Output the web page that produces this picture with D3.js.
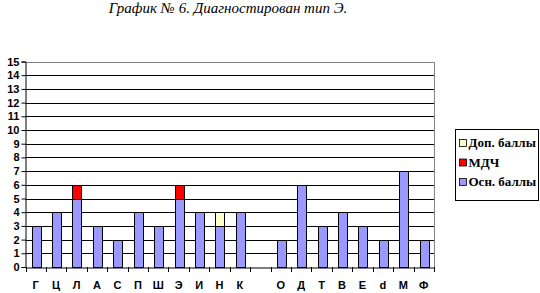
<html>
<head>
<meta charset="utf-8">
<script src="https://d3js.org/d3.v7.min.js"></script>
<style>
  body { margin: 0; background: #fff; }
</style>
</head>
<body>
<div id="chart"></div>
<script>

// categories ("" is the empty gap between К and О)
var categories = ["Г", "Ц", "Л", "А", "С", "П", "Ш", "Э", "И", "Н", "К", "", "О", "Д", "Т", "В", "Е", "d", "М", "Ф"];
var osnBally = [3, 4, 5, 3, 2, 4, 3, 5, 4, 3, 4, 0, 2, 6, 3, 4, 3, 2, 7, 2];
var mdch     = [0, 0, 1, 0, 0, 0, 0, 1, 0, 0, 0, 0, 0, 0, 0, 0, 0, 0, 0, 0];
var dopBally = [0, 0, 0, 0, 0, 0, 0, 0, 0, 1, 0, 0, 0, 0, 0, 0, 0, 0, 0, 0];
var yTicks = d3.range(0, 16);

var seriesNames = ["Осн. баллы", "МДЧ", "Доп. баллы"];
var seriesColors = ["#9999ff", "#ff0000", "#ffffcc"];

var width = 540, height = 293;
var margin = {top: 61.5, left: 25.5, right: 106, bottom: 26};

var svg = d3.select("#chart")
    .append("svg")
    .attr("width", width)
    .attr("height", height);

// title
svg.append("text")
    .attr("x", 228)
    .attr("y", 13)
    .attr("text-anchor", "middle")
    .style("font-family", "Liberation Serif, serif")
    .style("font-style", "italic")
    .style("font-size", "15px")
    .text("График № 6. Диагностирован тип Э.");

var keys = categories.map(function(c, i) { return "k" + i; });

var x = d3.scaleBand()
    .domain(keys)
    .range([margin.left, width - margin.right]);

var y = d3.scaleLinear()
    .domain([0, 15])
    .range([height - margin.bottom, margin.top]);

// gridlines
svg.append("g")
    .selectAll("line")
    .data(yTicks.filter(function(t) { return t > 0 && t < 15; }))
    .enter()
    .append("line")
    .attr("x1", margin.left)
    .attr("x2", width - margin.right)
    .attr("y1", function(d) { return Math.round(y(d)) + 0.5; })
    .attr("y2", function(d) { return Math.round(y(d)) + 0.5; })
    .attr("stroke", "#000")
    .attr("stroke-width", 1);

// plot border (top & right, grey)
svg.append("path")
    .attr("d", "M" + margin.left + "," + (Math.round(y(15)) + 0.5) +
               "H" + (Math.round(width - margin.right) + 0.5) +
               "V" + (Math.round(y(0)) + 0.5))
    .attr("fill", "none")
    .attr("stroke", "#808080");

// stacked data
var rows = categories.map(function(c, i) {
    return {key: keys[i], vals: [osnBally[i], mdch[i], dopBally[i]]};
});

var bw = x.bandwidth();
rows.forEach(function(r) {
    var base = 0;
    r.vals.forEach(function(v, si) {
        if (v > 0) {
            svg.append("rect")
                .attr("x", Math.round(x(r.key) + bw * 0.3) + 0.5)
                .attr("width", Math.round(bw * 0.43))
                .attr("y", Math.round(y(base + v)) + 0.5)
                .attr("height", Math.round(y(base)) - Math.round(y(base + v)))
                .attr("fill", seriesColors[si])
                .attr("stroke", "#000")
                .attr("stroke-width", 1);
        }
        base += v;
    });
});

// Y axis
var yAxis = svg.append("g")
    .attr("transform", "translate(" + margin.left + ",0)")
    .call(d3.axisLeft(y).tickValues(yTicks).tickSize(4).tickPadding(2).tickFormat(d3.format("d")));
yAxis.selectAll("text")
    .style("font-family", "Liberation Sans, Arial, sans-serif")
    .style("font-weight", "bold")
    .style("font-size", "11px")
    .attr("fill", "#000");
yAxis.select(".domain").attr("stroke", "#000");

// X axis
var xAxis = svg.append("g")
    .attr("transform", "translate(0," + (Math.round(y(0)) + 0.5) + ")")
    .call(d3.axisBottom(x).tickSize(0).tickPadding(14)
        .tickFormat(function(d, i) { return categories[i]; }));
xAxis.select(".domain").attr("stroke", "#000");
xAxis.selectAll("text")
    .style("font-family", "Liberation Sans, Arial, sans-serif")
    .style("font-weight", "bold")
    .style("font-size", "11px")
    .attr("fill", "#000");

// category separators below axis
svg.append("g")
    .selectAll("line")
    .data(keys.concat(["end"]))
    .enter()
    .append("line")
    .attr("x1", function(d) { return Math.round(d === "end" ? width - margin.right : x(d)) + 0.5; })
    .attr("x2", function(d) { return Math.round(d === "end" ? width - margin.right : x(d)) + 0.5; })
    .attr("y1", Math.round(y(0)))
    .attr("y2", Math.round(y(0)) + 5)
    .attr("stroke", "#000");

// legend
var legend = svg.append("g").attr("transform", "translate(455.5,129.5)");
legend.append("rect")
    .attr("width", 83)
    .attr("height", 71)
    .attr("fill", "#fff")
    .attr("stroke", "#000");

var legendOrder = [2, 1, 0];
legendOrder.forEach(function(si, i) {
    var g = legend.append("g").attr("transform", "translate(4," + (13.5 + i * 19.5) + ")");
    g.append("rect")
        .attr("x", 0)
        .attr("y", -3.5)
        .attr("width", 7)
        .attr("height", 7)
        .attr("fill", seriesColors[si])
        .attr("stroke", "#000")
        .attr("stroke-width", 0.8);
    g.append("text")
        .attr("x", 9)
        .attr("y", 4)
        .style("font-family", "Liberation Serif, serif")
        .style("font-weight", "bold")
        .style("font-size", "13px")
        .text(seriesNames[si]);
});

</script>
</body>
</html>
